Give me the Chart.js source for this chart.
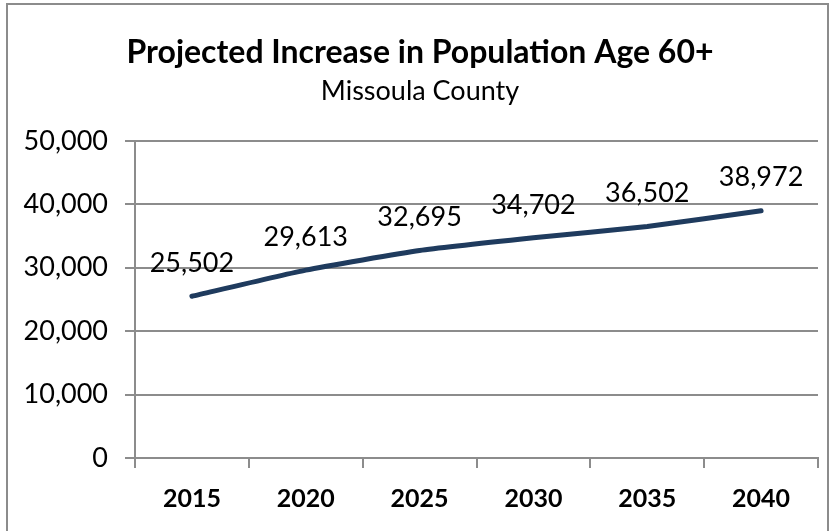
<!DOCTYPE html>
<html lang="en">
<head>
<meta charset="UTF-8">
<title>Projected Increase in Population Age 60+</title>
<script src="https://cdn.jsdelivr.net/npm/chart.js@4.4.1/dist/chart.umd.min.js"></script>
<style>
  html, body { margin: 0; padding: 0; background: #fff; overflow: hidden; }
  #wrap { position: relative; width: 837px; height: 531px; }
  #frame { position: absolute; left: 6px; top: 3px; width: 823px; height: 560px;
           border: 2px solid #8c8c8c; box-sizing: border-box; pointer-events: none; }
</style>
</head>
<body>
<div id="wrap">
  <canvas id="chart" width="837" height="531"></canvas>
  <div id="frame"></div>
</div>
<script>
const years = ['2015', '2020', '2025', '2030', '2035', '2040'];
const population = [25502, 29613, 32695, 34702, 36502, 38972];
const yTicks = [0, 10000, 20000, 30000, 40000, 50000];

const FONT = 'Lato, "Open Sans", sans-serif';
const GRID = '#8c8c8c';

const fmt = v => v.toLocaleString('en-US');

// value labels above each point
const pointLabels = {
  id: 'pointLabels',
  afterDatasetsDraw(chart) {
    const ctx = chart.ctx;
    const meta = chart.getDatasetMeta(0);
    ctx.save();
    ctx.font = '27px ' + FONT;
    ctx.fillStyle = '#000';
    ctx.textAlign = 'center';
    ctx.textBaseline = 'middle';
    meta.data.forEach((pt, i) => {
      ctx.fillText(fmt(population[i]), pt.x, pt.y - 33);
    });
    ctx.restore();
  }
};

const ctx = document.getElementById('chart').getContext('2d');
new Chart(ctx, {
  type: 'line',
  data: {
    labels: years,
    datasets: [{
      data: population,
      borderColor: '#1F3B5E',
      borderWidth: 5,
      borderCapStyle: 'round',
      borderJoinStyle: 'round',
      pointRadius: 0,
      tension: 0.15,
      fill: false
    }]
  },
  options: {
    responsive: false,
    animation: false,
    events: [],
    // a bit of left padding nudges the title right; y axis width makes up for it
    layout: { padding: { left: 22, right: 19, top: 0, bottom: 0 } },
    plugins: {
      legend: { display: false },
      tooltip: { enabled: false },
      title: {
        display: true,
        text: 'Projected Increase in Population Age 60+',
        color: '#000',
        font: { family: FONT, size: 32, weight: 'bold' },
        padding: { top: 33, bottom: 0 }
      },
      subtitle: {
        display: true,
        text: 'Missoula County',
        color: '#000',
        font: { family: FONT, size: 27 },
        padding: { top: 4, bottom: 33 }
      }
    },
    scales: {
      x: {
        offset: true,
        grid: {
          offset: true,
          drawOnChartArea: false,
          drawTicks: true,
          tickLength: 10,
          color: GRID,
          lineWidth: 2
        },
        border: { color: GRID, width: 2 },
        ticks: {
          color: '#000',
          padding: 16,
          font: { family: FONT, size: 25, weight: 'bold' }
        },
        afterFit(scale) { scale.height = 73; }
      },
      y: {
        min: 0,
        max: 50000,
        afterBuildTicks(scale) { scale.ticks = yTicks.map(v => ({ value: v })); },
        grid: { color: GRID, lineWidth: 2, tickLength: 10 },
        border: { color: GRID, width: 2 },
        ticks: {
          color: '#000',
          padding: 17,
          font: { family: FONT, size: 27 },
          callback: v => fmt(v)
        },
        afterFit(scale) { scale.width = 113; }
      }
    }
  },
  plugins: [pointLabels]
});
</script>
</body>
</html>
